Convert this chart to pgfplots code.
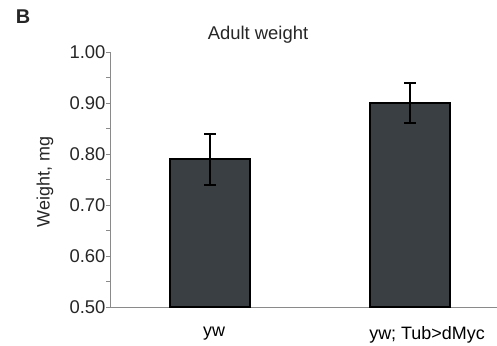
\documentclass[border=0pt]{standalone}
\usepackage{pgfplots}
\pgfplotsset{compat=1.18}
\usepackage{fontspec}
\setmainfont{Liberation Sans}
\definecolor{barfill}{HTML}{3A3F44}
\definecolor{axisgray}{HTML}{8A8A8A}
\definecolor{txt}{HTML}{262626}
\begin{document}
\begin{tikzpicture}[x=1bp,y=1bp]
\path[use as bounding box] (0,0) rectangle (497,345);
\begin{axis}[
  at={(110bp,38bp)}, anchor=south west,
  scale only axis, width=387bp, height=255bp,
  xmin=-0.5, xmax=1.435, ymin=0.5, ymax=1.0,
  axis x line*=bottom, axis y line*=left,
  axis line style={axisgray, line width=0.9bp},
  ytick={0.5,0.6,0.7,0.8,0.9,1.0},
  minor ytick={0.55,0.65,0.75,0.85,0.95},
  yticklabel style={/pgf/number format/fixed, /pgf/number format/fixed zerofill, /pgf/number format/precision=2, /pgf/number format/assume math mode=true,
    font=\fontsize{18.5}{20}\selectfont, text=txt, xshift=3bp},
  xtick={0.02,1.085},
  xticklabels={yw, yw; Tub>dMyc},
  xticklabel style={font=\fontsize{18}{20}\selectfont, text=black, yshift=-12bp},
  extra x ticks={0.5},
  extra x tick labels={},
  x tick style={draw=none},
  extra x tick style={major tick length=4bp, tick style={axisgray, line width=0.8bp, draw=axisgray}},
  tick align=outside,
  major tick length=4bp, minor tick length=4bp,
  y tick style={axisgray, line width=0.8bp},
]
\addplot[ybar, bar width=0.4, fill=barfill, draw=black, line width=1.5bp,
  error bars/.cd, y dir=both, y explicit,
  error bar style={black, line width=2bp},
  error mark options={rotate=90, mark size=6bp, line width=2bp, black}]
  coordinates {(0,0.79) +- (0,0.05) (1,0.90) +- (0,0.04)};
\end{axis}
\node[font=\fontsize{18.5}{20}\selectfont, text=txt] at (258,310) {Adult weight};
\node[font=\fontsize{18}{20}\selectfont, text=txt, rotate=90] at (45,163) {Weight, mg};
\node[font=\bfseries\fontsize{20}{22}\selectfont, text=txt] at (23,328) {B};
\end{tikzpicture}
\end{document}
